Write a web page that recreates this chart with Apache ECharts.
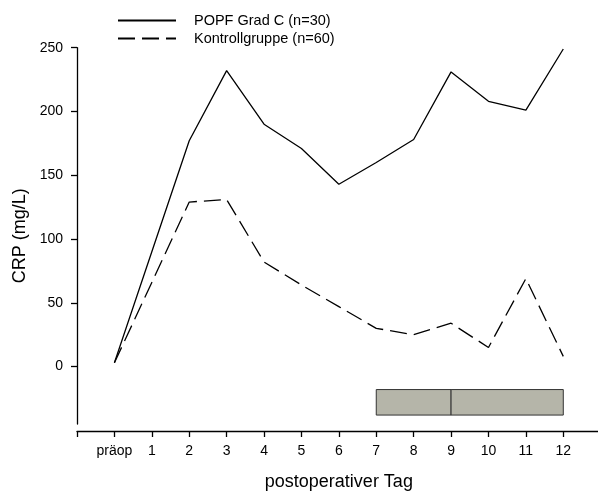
<!DOCTYPE html>
<html>
<head>
<meta charset="utf-8">
<script src="https://cdn.jsdelivr.net/npm/echarts@6/dist/echarts.min.js"></script>
<style>html,body{margin:0;padding:0;background:#fff;}#c{width:598px;height:493px;}</style>
</head>
<body>
<div id="c"></div>
<script>
var days = [0, 1, 2, 3, 4, 5, 6, 7, 8, 9, 10, 11, 12];
var dayLabels = ['präop', '1', '2', '3', '4', '5', '6', '7', '8', '9', '10', '11', '12'];
var popfC = [3, 90, 177, 232, 190, 171, 143, 160, 178, 231, 208, 201, 249];
var kontroll = [3, 66, 129, 131, 82, 64, 47, 30, 25, 34, 15, 69, 8];
var yTicks = [0, 50, 100, 150, 200, 250];
var boxDays = [7, 9, 12];
var boxRange = [-18, -38];
var seriesNames = ['POPF Grad C (n=30)', 'Kontrollgruppe (n=60)'];

function pairs(xs, ys) { return xs.map(function (x, i) { return [x, ys[i]]; }); }

var chart = echarts.init(document.getElementById('c'), null, { renderer: 'canvas' });
var font = 'Liberation Sans, Arial, sans-serif';
chart.setOption({
  animation: false,
  backgroundColor: '#fff',
  textStyle: { fontFamily: font },
  legend: {
    orient: 'vertical', left: 112, top: 8, itemGap: 3,
    itemWidth: 58, itemHeight: 15,
    itemStyle: { opacity: 0 },
    textStyle: { fontSize: 14.5, color: '#000', fontFamily: font, padding: [0, 0, 0, 13] },
    data: seriesNames
  },
  grid: { left: 77, right: -2.7, top: 47.7, bottom: 69, containLabel: false, outerBoundsMode: 'none' },
  xAxis: {
    type: 'value', min: -1, max: 13, interval: 1, offset: 7,
    name: 'postoperativer Tag', nameLocation: 'middle', nameGap: 42,
    nameTextStyle: { fontSize: 18, color: '#000', fontFamily: font },
    axisLine: { onZero: false, lineStyle: { color: '#000', width: 1.3 } },
    axisTick: { length: 6, lineStyle: { color: '#000', width: 1.3 } },
    axisLabel: {
      customValues: days, fontSize: 14, color: '#000', margin: 13, fontFamily: font,
      formatter: function (v) { return dayLabels[days.indexOf(v)]; }
    },
    splitLine: { show: false }
  },
  yAxis: {
    type: 'value', min: -45, max: 250,
    name: 'CRP (mg/L)', nameLocation: 'middle', nameGap: 47,
    nameTextStyle: { fontSize: 18, color: '#000', fontFamily: font },
    axisLine: { show: true, onZero: false, lineStyle: { color: '#000', width: 1.3 } },
    axisTick: { show: true, length: 6, customValues: yTicks, lineStyle: { color: '#000', width: 1.3 } },
    axisLabel: { customValues: yTicks, fontSize: 14, color: '#000', margin: 14, fontFamily: font },
    splitLine: { show: false }
  },
  series: [
    {
      name: seriesNames[0], type: 'line', data: pairs(days, popfC),
      symbol: 'none', silent: true,
      lineStyle: { color: '#000', width: 1.3, type: 'solid' },
      itemStyle: { color: '#000' }
    },
    {
      name: seriesNames[1], type: 'line', data: pairs(days, kontroll),
      symbol: 'none', silent: true,
      lineStyle: { color: '#000', width: 1.3, type: [17, 7] },
      itemStyle: { color: '#000' },
      markArea: {
        silent: true,
        itemStyle: { color: '#b5b5a9', borderColor: '#333', borderWidth: 1, opacity: 1 },
        data: [
          [{ coord: [boxDays[0], boxRange[0]] }, { coord: [boxDays[1], boxRange[1]] }],
          [{ coord: [boxDays[1], boxRange[0]] }, { coord: [boxDays[2], boxRange[1]] }]
        ]
      }
    }
  ]
});
</script>
</body>
</html>
